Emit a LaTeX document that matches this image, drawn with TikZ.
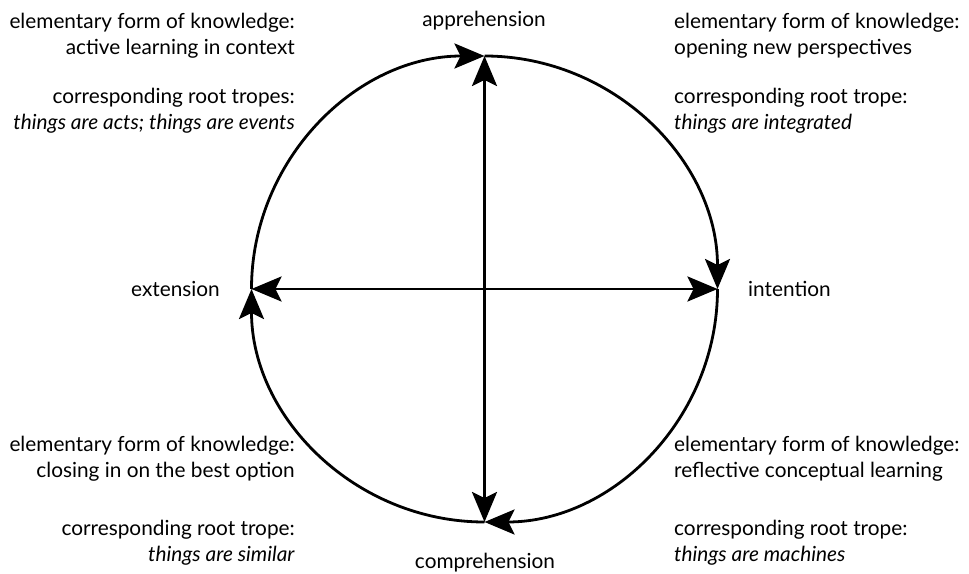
\documentclass[tikz,border=0pt]{standalone}
\usepackage{fontspec}
\setmainfont{Lato}
\usetikzlibrary{arrows.meta, positioning}

\begin{document}
\begin{tikzpicture}[x=1pt, y=1pt,
    >={Stealth[length=30pt, width=25pt, inset=6pt]},
    axis/.style={line width=2.8pt, <->},
    cyc/.style={line width=2.8pt, ->},
    lbl/.style={inner sep=0pt, font=\fontsize{20.8}{26}\selectfont},
    lblock/.style={lbl, align=right, anchor=base east},
    rblock/.style={lbl, align=left, anchor=base west}]
    \useasboundingbox (0,0) rectangle (969,573);
    % cycle points
    \coordinate (top) at (484.5,517);
    \coordinate (bot) at (484.5,51);
    \coordinate (lft) at (251.5,284);
    \coordinate (rgt) at (717.5,284);
    \draw[axis] (bot) -- (top);
    \draw[axis] (lft) -- (rgt);
    \draw[cyc] (lft) arc[start angle=180, end angle=90, radius=233];
    \draw[cyc] (top) arc[start angle=90, end angle=0, radius=233];
    \draw[cyc] (rgt) arc[start angle=0, end angle=-90, radius=233];
    \draw[cyc] (bot) arc[start angle=-90, end angle=-180, radius=233];
    % pole labels
    \node[lbl, anchor=base] (appr) at (484,546) {apprehension};
    \node[lbl, anchor=base] (comp) at (485,5) {comprehension};
    \node[lbl, anchor=base east] (ext) at (220,276) {extension};
    \node[lbl, anchor=base west] (int) at (748,276) {intention};
    % quadrant texts (base = last line)
    \node[lblock] (tlform) at (295,518) {elementary form of knowledge:\\active learning in context};
    \node[lblock] (tltrope) at (295,443) {corresponding root tropes:\\\textit{things are acts; things are events}};
    \node[rblock] (trform) at (674,518) {elementary form of knowledge:\\opening new perspectives};
    \node[rblock] (trtrope) at (674,443) {corresponding root trope:\\\textit{things are integrated}};
    \node[lblock] (blform) at (295,95) {elementary form of knowledge:\\closing in on the best option};
    \node[lblock] (bltrope) at (295,12) {corresponding root trope:\\\textit{things are similar}};
    \node[rblock] (brform) at (674,95) {elementary form of knowledge:\\reflective conceptual learning};
    \node[rblock] (brtrope) at (674,12) {corresponding root trope:\\\textit{things are machines}};
\end{tikzpicture}
\end{document}
